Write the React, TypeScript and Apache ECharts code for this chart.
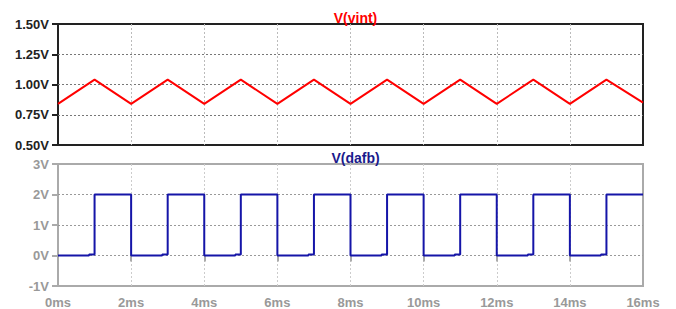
import React, { useEffect, useRef } from "react";
import * as echarts from "echarts";

const vintTimes = [0, 1, 2, 3, 4, 5, 6, 7, 8, 9, 10, 11, 12, 13, 14, 15, 16];
const vintValues = [0.84, 1.04, 0.84, 1.04, 0.84, 1.04, 0.84, 1.04, 0.84, 1.04, 0.84, 1.04, 0.84, 1.04, 0.84, 1.04, 0.85];

const dafbTimes = [
  0, 0.85, 0.85, 1.0, 1.0, 2.0, 2.0, 2.85, 2.85, 3.0, 3.0, 4.0,
  4.0, 4.85, 4.85, 5.0, 5.0, 6.0, 6.0, 6.85, 6.85, 7.0, 7.0, 8.0,
  8.0, 8.85, 8.85, 9.0, 9.0, 10.0, 10.0, 10.85, 10.85, 11.0, 11.0, 12.0,
  12.0, 12.85, 12.85, 13.0, 13.0, 14.0, 14.0, 14.85, 14.85, 15.0, 15.0, 16.0,
];
const dafbValues = [
  0, 0, 0.03, 0.03, 2, 2, 0, 0, 0.03, 0.03, 2, 2,
  0, 0, 0.03, 0.03, 2, 2, 0, 0, 0.03, 0.03, 2, 2,
  0, 0, 0.03, 0.03, 2, 2, 0, 0, 0.03, 0.03, 2, 2,
  0, 0, 0.03, 0.03, 2, 2, 0, 0, 0.03, 0.03, 2, 2,
];

const titles = ["V(vint)", "V(dafb)"];
const FONT = "Liberation Sans, Arial, sans-serif";

export default function App() {
  const ref = useRef<HTMLDivElement>(null);
  useEffect(() => {
    if (!ref.current) return;
    const chart = echarts.init(ref.current, null, { renderer: "svg" });
    const L = 58, W = 585;
    const split = (color: string) => ({
      show: true, showMinLine: false, showMaxLine: false,
      lineStyle: { color, type: [2, 2], width: 1 },
    });
    chart.setOption({
      animation: false,
      backgroundColor: "#ffffff",
      title: [
        { text: titles[0], left: L + W / 2, top: 6, textAlign: "center",
          textStyle: { color: "#ff0000", fontSize: 14, fontWeight: "bold", fontFamily: FONT } },
        { text: titles[1], left: L + W / 2, top: 146, textAlign: "center",
          textStyle: { color: "#1a1a8c", fontSize: 14, fontWeight: "bold", fontFamily: FONT } },
      ],
      grid: [
        { left: L, top: 24, width: W, height: 121, show: true, borderColor: "#222", borderWidth: 2, backgroundColor: "transparent" },
        { left: L, top: 164, width: W, height: 122, show: true, borderColor: "#aaa", borderWidth: 2, backgroundColor: "transparent" },
      ],
      xAxis: [
        { type: "value", gridIndex: 0, min: 0, max: 16, interval: 2,
          axisLine: { show: false }, axisTick: { show: false }, axisLabel: { show: false },
          splitLine: split("#bbb") },
        { type: "value", gridIndex: 1, min: 0, max: 16, interval: 2,
          axisLine: { show: false },
          axisTick: { show: true, length: 6, lineStyle: { color: "#aaa", width: 2 } },
          axisLabel: { show: true, margin: 10, color: "#999", fontSize: 13, fontWeight: "bold", fontFamily: FONT,
            formatter: (v: number) => `${v}ms` },
          splitLine: split("#ccc") },
      ],
      yAxis: [
        { type: "value", gridIndex: 0, min: 0.5, max: 1.5, interval: 0.25,
          axisLine: { show: false },
          axisTick: { show: true, length: 6, lineStyle: { color: "#222", width: 2 } },
          axisLabel: { show: true, margin: 9, color: "#222", fontSize: 13, fontWeight: "bold", fontFamily: FONT,
            formatter: (v: number) => `${v.toFixed(2)}V` },
          splitLine: split("#777") },
        { type: "value", gridIndex: 1, min: -1, max: 3, interval: 1,
          axisLine: { show: false },
          axisTick: { show: true, length: 6, lineStyle: { color: "#aaa", width: 2 } },
          axisLabel: { show: true, margin: 9, color: "#999", fontSize: 13, fontWeight: "bold", fontFamily: FONT,
            formatter: (v: number) => `${v}V` },
          splitLine: split("#999") },
      ],
      series: [
        { type: "line", xAxisIndex: 0, yAxisIndex: 0, showSymbol: false, silent: true,
          data: vintTimes.map((t, i) => [t, vintValues[i]]),
          lineStyle: { color: "#ff0000", width: 2 } },
        { type: "line", xAxisIndex: 1, yAxisIndex: 1, showSymbol: false, silent: true,
          data: dafbTimes.map((t, i) => [t, dafbValues[i]]),
          lineStyle: { color: "#1515a8", width: 2 } },
      ],
    });
    return () => chart.dispose();
  }, []);
  return <div ref={ref} style={{ width: 676, height: 309, position: "absolute", left: 0, top: 0 }} />;
}
